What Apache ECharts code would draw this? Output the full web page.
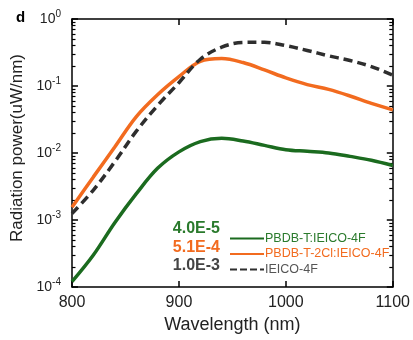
<!DOCTYPE html>
<html>
<head>
<meta charset="utf-8">
<script src="https://cdn.jsdelivr.net/npm/echarts@6/dist/echarts.min.js"></script>
<style>
  html, body { margin: 0; padding: 0; background: #fff; }
  #chart { width: 413px; height: 340px; }
</style>
</head>
<body>
<div id="chart"></div>
<script>
// wavelength grid (nm)
const wavelength = [800, 820, 840, 860, 880, 900, 920, 940, 960, 980, 1000, 1020, 1040, 1060, 1080, 1100];

// radiation power (uW/nm)
const pbdbT = [1.2e-4, 3.0e-4, 9.1e-4, 2.45e-3, 5.9e-3, 0.0104, 0.0148, 0.0166, 0.0151, 0.0130, 0.0112, 0.0106, 0.0100, 0.0089, 0.0078, 0.0065];
const pbdbT2Cl = [1.55e-3, 4.4e-3, 0.0123, 0.0347, 0.074, 0.138, 0.234, 0.257, 0.224, 0.174, 0.132, 0.105, 0.089, 0.071, 0.055, 0.044];
const ieico = [1.25e-3, 2.8e-3, 7.4e-3, 0.021, 0.051, 0.112, 0.251, 0.38, 0.447, 0.45, 0.40, 0.339, 0.282, 0.24, 0.195, 0.145];

const seriesNames = ['PBDB-T:IEICO-4F', 'PBDB-T-2Cl:IEICO-4F', 'IEICO-4F'];
const legendValues = ['4.0E-5', '5.1E-4', '1.0E-3'];
const colors = ['#1b6b1f', '#f26b1f', '#2e2e2e'];
const labelColors = ['#2a7a2c', '#f26b1f', '#444444'];

// minor ticks of the log axis: 2..9 x each decade, placed on a log10 overlay axis
const decadeExp = [-4, -3, -2, -1];
const minorSteps = [2, 3, 4, 5, 6, 7, 8, 9];
const minorTickPos = [];
decadeExp.forEach(e => minorSteps.forEach(m => minorTickPos.push(e + Math.log10(m))));

const font = '"Liberation Sans", Arial, sans-serif';
const pairs = vals => wavelength.map((w, i) => [w, vals[i]]);

const yLabel = v => '{b|10}{e|' + Math.round(Math.log10(v)) + '}';

const chart = echarts.init(document.getElementById('chart'));
chart.setOption({
    animation: false,
    title: {
        text: 'd',
        left: 11,
        top: 5,
        textStyle: { fontFamily: font, fontSize: 15, fontWeight: 'bold', color: '#000' }
    },
    grid: { left: 72, right: 19, top: 19, bottom: 53 },
    xAxis: [
        {
            type: 'value', position: 'bottom', min: 800, max: 1100, interval: 100,
            name: 'Wavelength (nm)',
            nameLocation: 'middle',
            nameGap: 27,
            nameTextStyle: { fontFamily: font, fontSize: 18, color: '#222' },
            axisLine: { show: true, onZero: false, lineStyle: { color: '#000', width: 1.5 } },
            axisTick: { show: true, inside: true, length: 6, lineStyle: { color: '#000', width: 1.5 } },
            axisLabel: { fontFamily: font, fontSize: 16, color: '#222', margin: 8, formatter: v => String(v) },
            splitLine: { show: false }
        },
        {
            type: 'value', position: 'top', min: 800, max: 1100, interval: 100,
            axisLine: { show: true, onZero: false, lineStyle: { color: '#000', width: 1.5 } },
            axisTick: { show: true, inside: true, length: 6, lineStyle: { color: '#000', width: 1.5 } },
            axisLabel: { show: false },
            splitLine: { show: false }
        }
    ],
    yAxis: [
        {
            type: 'log', position: 'left', min: 1e-4, max: 1,
            name: 'Radiation power(uW/nm)',
            nameLocation: 'middle',
            nameGap: 46,
            nameTextStyle: { fontFamily: font, fontSize: 17, color: '#222', padding: [0, 0, 0, 10] },
            axisLine: { show: true, lineStyle: { color: '#000', width: 1.5 } },
            axisTick: { show: true, inside: true, length: 6, lineStyle: { color: '#000', width: 1.5 } },
            axisLabel: {
                margin: 11,
                formatter: yLabel,
                rich: {
                    b: { fontFamily: font, fontSize: 14, color: '#222' },
                    e: { fontFamily: font, fontSize: 10, color: '#222', padding: [0, 0, 10, 0] }
                }
            },
            splitLine: { show: false }
        },
        {
            type: 'log', position: 'right', min: 1e-4, max: 1,
            axisLine: { show: true, lineStyle: { color: '#000', width: 1.5 } },
            axisTick: { show: true, inside: true, length: 6, lineStyle: { color: '#000', width: 1.5 } },
            axisLabel: { show: false },
            splitLine: { show: false }
        },
        {
            type: 'value', position: 'left', min: -4, max: 0,
            axisLine: { show: false, onZero: false },
            axisTick: { show: true, inside: true, length: 3.5, customValues: minorTickPos, lineStyle: { color: '#000', width: 1.2 } },
            axisLabel: { show: false },
            splitLine: { show: false }
        },
        {
            type: 'value', position: 'right', min: -4, max: 0,
            axisLine: { show: false, onZero: false },
            axisTick: { show: true, inside: true, length: 3.5, customValues: minorTickPos, lineStyle: { color: '#000', width: 1.2 } },
            axisLabel: { show: false },
            splitLine: { show: false }
        }
    ],
    legend: {
        orient: 'vertical',
        left: 224,
        top: 227,
        itemWidth: 34,
        itemHeight: 12,
        itemGap: 2.5,
        itemStyle: { opacity: 0 },
        textStyle: { fontFamily: font, fontSize: 12.5, lineHeight: 12, padding: [0, 0, 0, -4] },
        data: [
            { name: seriesNames[0], textStyle: { color: labelColors[0] } },
            { name: seriesNames[1], textStyle: { color: labelColors[1] } },
            { name: seriesNames[2], textStyle: { color: '#555' }, lineStyle: { type: [7, 3] } }
        ]
    },
    graphic: legendValues.map((t, i) => ({
        type: 'text',
        x: 220,
        y: [228.5, 247.5, 266][i],
        style: {
            text: t,
            align: 'right',
            verticalAlign: 'middle',
            font: 'bold 16px ' + font,
            fill: labelColors[i]
        }
    })),
    series: [
        {
            name: seriesNames[0], type: 'line', data: pairs(pbdbT),
            symbol: 'none', smooth: 0.35,
            lineStyle: { color: colors[0], width: 3.5 }, itemStyle: { color: colors[0] }
        },
        {
            name: seriesNames[1], type: 'line', data: pairs(pbdbT2Cl),
            symbol: 'none', smooth: 0.35,
            lineStyle: { color: colors[1], width: 3.5 }, itemStyle: { color: colors[1] }
        },
        {
            name: seriesNames[2], type: 'line', data: pairs(ieico),
            symbol: 'none', smooth: 0.35,
            lineStyle: { color: colors[2], width: 3.5, type: [9, 5] }, itemStyle: { color: colors[2] }
        }
    ]
});
</script>
</body>
</html>
